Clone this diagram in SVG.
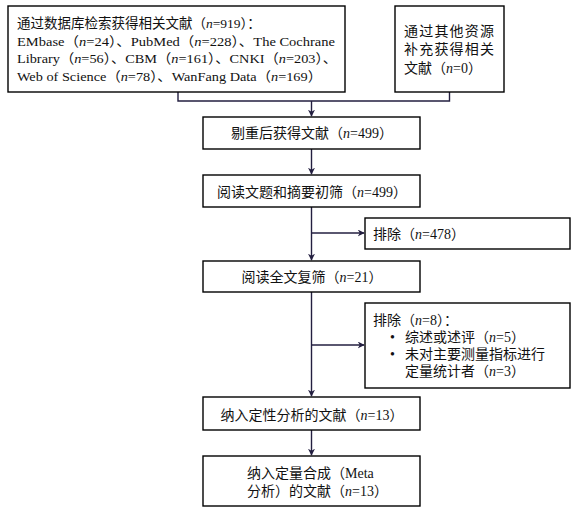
<svg xmlns="http://www.w3.org/2000/svg" width="580" height="514" viewBox="0 0 580 514">
<defs>
<style>
.box{fill:#fff;stroke:#000;stroke-width:1.4}
.t{font-family:"Liberation Serif","Noto Sans CJK SC",serif;font-size:14px;fill:#111}
.s{font-size:13.5px}
.c{text-anchor:middle}
.ln{fill:none;stroke:#231f40;stroke-width:1.4}
</style>
<marker id="ah" viewBox="0 0 10 10" refX="9" refY="5" markerWidth="7" markerHeight="7" markerUnits="userSpaceOnUse" orient="auto">
<path d="M0,0 L10,5 L0,10 L3,5 Z" fill="#231f40"/>
</marker>
</defs>
<rect width="580" height="514" fill="#fff"/>
<g id="connectors">
<path class="ln" d="M178,92 V101 H449.5 V92"/>
<path class="ln" d="M311.5,101 V116" marker-end="url(#ah)"/>
<path class="ln" d="M311.5,149 V174" marker-end="url(#ah)"/>
<path class="ln" d="M311.5,207 V260" marker-end="url(#ah)"/>
<path class="ln" d="M311.5,233 H364" marker-end="url(#ah)"/>
<path class="ln" d="M311.5,292 V396" marker-end="url(#ah)"/>
<path class="ln" d="M311.5,345 H364" marker-end="url(#ah)"/>
<path class="ln" d="M311.5,430 V455" marker-end="url(#ah)"/>
</g>
<g id="n1">
<rect class="box" x="8" y="6" width="337" height="86"/>
<text class="t s" x="17" y="28">通过数据库检索获得相关文献（<tspan font-style="italic">n</tspan>=919）：</text>
<text class="t s" x="17" y="45.5" textLength="318" lengthAdjust="spacingAndGlyphs">EMbase（<tspan font-style="italic">n</tspan>=24）、PubMed（<tspan font-style="italic">n</tspan>=228）、The Cochrane</text>
<text class="t s" x="17" y="63" textLength="320" lengthAdjust="spacingAndGlyphs">Library（<tspan font-style="italic">n</tspan>=56）、CBM（<tspan font-style="italic">n</tspan>=161）、CNKI（<tspan font-style="italic">n</tspan>=203）、</text>
<text class="t s" x="17" y="80.5" textLength="305" lengthAdjust="spacingAndGlyphs">Web of Science（<tspan font-style="italic">n</tspan>=78）、WanFang Data（<tspan font-style="italic">n</tspan>=169）</text>
</g>
<g id="n2">
<rect class="box" x="395" y="6" width="109" height="86"/>
<text class="t" x="404" y="36" textLength="90">通过其他资源</text>
<text class="t" x="404" y="54" textLength="90">补充获得相关</text>
<text class="t" x="404" y="73">文献（<tspan font-style="italic">n</tspan>=0）</text>
</g>
<g id="n3">
<rect class="box" x="203" y="117" width="217" height="32"/>
<text class="t c" x="312" y="138">剔重后获得文献（<tspan font-style="italic">n</tspan>=499）</text>
</g>
<g id="n4">
<rect class="box" x="203" y="175" width="217" height="32"/>
<text class="t c" x="312" y="197">阅读文题和摘要初筛（<tspan font-style="italic">n</tspan>=499）</text>
</g>
<g id="n5">
<rect class="box" x="365" y="218" width="205" height="31"/>
<text class="t" x="373" y="238.5">排除（<tspan font-style="italic">n</tspan>=478）</text>
</g>
<g id="n6">
<rect class="box" x="203" y="261" width="217" height="31"/>
<text class="t c" x="312" y="282">阅读全文复筛（<tspan font-style="italic">n</tspan>=21）</text>
</g>
<g id="n7">
<rect class="box" x="365" y="303" width="205" height="85"/>
<text class="t" x="373" y="324.5">排除（<tspan font-style="italic">n</tspan>=8）：</text>
<text class="t" x="390" y="342">•</text>
<text class="t" x="405" y="342">综述或述评（<tspan font-style="italic">n</tspan>=5）</text>
<text class="t" x="390" y="359">•</text>
<text class="t" x="405" y="359">未对主要测量指标进行</text>
<text class="t" x="405" y="376">定量统计者（<tspan font-style="italic">n</tspan>=3）</text>
</g>
<g id="n8">
<rect class="box" x="203" y="397" width="217" height="33"/>
<text class="t c" x="312" y="420">纳入定性分析的文献（<tspan font-style="italic">n</tspan>=13）</text>
</g>
<g id="n9">
<rect class="box" x="203" y="456" width="217" height="50"/>
<text class="t" x="247" y="478">纳入定量合成（Meta</text>
<text class="t" x="247" y="496">分析）的文献（<tspan font-style="italic">n</tspan>=13）</text>
</g>
</svg>
